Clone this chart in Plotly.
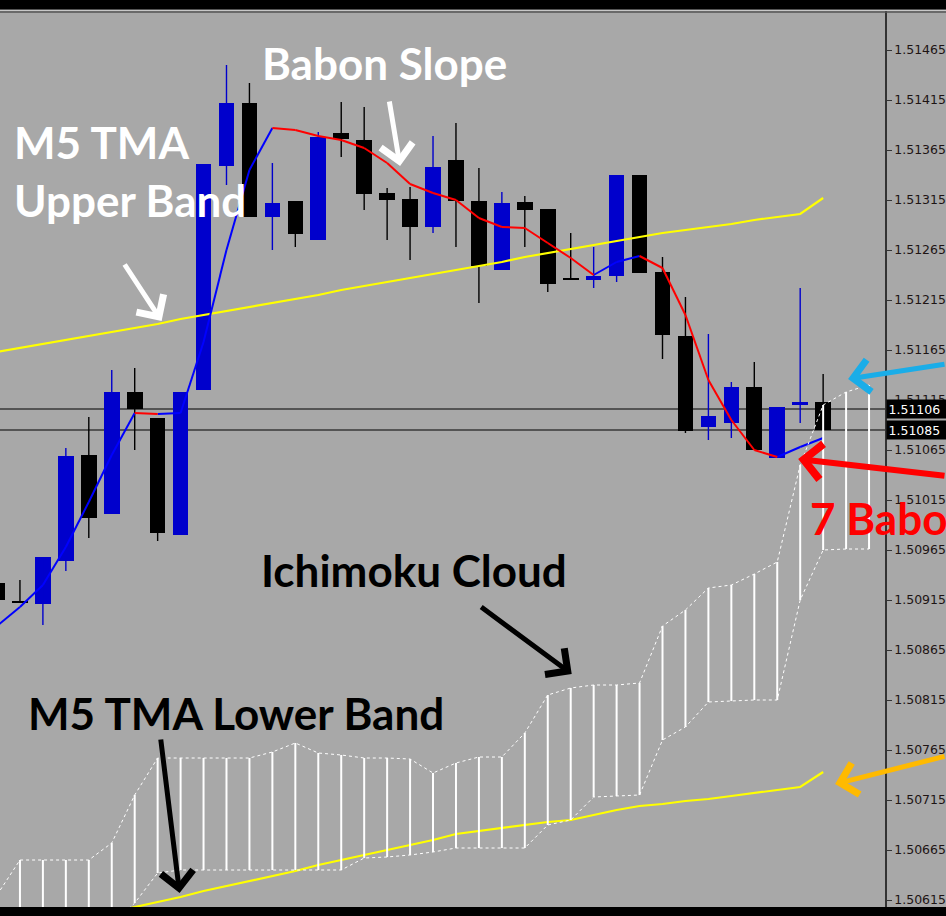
import plotly.graph_objects as go

# ---------------- data ----------------
bar_index = list(range(-1, 36))
open_ = [1.50932, 1.50914, 1.50911, 1.50954, 1.51060, 1.51001, 1.51123, 1.51097, 1.50980, 1.51125,
         1.51349, 1.51412, 1.51298, 1.51314, 1.51275, 1.51382, 1.51375, 1.51322, 1.51316, 1.51288,
         1.51355, 1.51314, 1.51245, 1.51313, 1.51306, 1.51237, 1.51235, 1.51239, 1.51340, 1.51243,
         1.51179, 1.51088, 1.51092, 1.51128, 1.51057, 1.51110, 1.51113]
high = [1.50937, 1.50935, 1.50958, 1.51067, 1.51098, 1.51145, 1.51147, 1.51097, 1.51123, 1.51351,
        1.51450, 1.51432, 1.51352, 1.51314, 1.51383, 1.51413, 1.51408, 1.51327, 1.51328, 1.51379,
        1.51392, 1.51347, 1.51323, 1.51319, 1.51306, 1.51282, 1.51268, 1.51340, 1.51340, 1.51258,
        1.51218, 1.51181, 1.51133, 1.51153, 1.51108, 1.51227, 1.51141]
low = [1.50910, 1.50912, 1.50890, 1.50944, 1.50977, 1.51001, 1.51065, 1.50974, 1.50980, 1.51125,
       1.51330, 1.51298, 1.51265, 1.51268, 1.51275, 1.51358, 1.51305, 1.51275, 1.51255, 1.51282,
       1.51268, 1.51212, 1.51245, 1.51268, 1.51223, 1.51235, 1.51227, 1.51233, 1.51242, 1.51156,
       1.51082, 1.51075, 1.51077, 1.51065, 1.51057, 1.51092, 1.51085]
close = [1.50915, 1.50912, 1.50958, 1.51059, 1.50997, 1.51123, 1.51106, 1.50982, 1.51123, 1.51351,
         1.51412, 1.51298, 1.51312, 1.51281, 1.51378, 1.51376, 1.51321, 1.51315, 1.51288, 1.51348,
         1.51314, 1.51249, 1.51312, 1.51305, 1.51231, 1.51235, 1.51239, 1.51340, 1.51242, 1.51180,
         1.51084, 1.51099, 1.51128, 1.51065, 1.51108, 1.51113, 1.51085]

# Babon TMA centre line (one value per bar)
babon_ma = [1.50889, 1.50908, 1.50930, 1.50968, 1.51013, 1.51060, 1.51102, 1.51101, 1.51102, 1.51173,
            1.51265, 1.51345, 1.51387, 1.51385, 1.51379, 1.51375, 1.51367, 1.51352, 1.51331, 1.51322,
            1.51315, 1.51297, 1.51288, 1.51287, 1.51272, 1.51257, 1.51240, 1.51253, 1.51259, 1.51247,
            1.51200, 1.51135, 1.51095, 1.51065, 1.51058, 1.51068, 1.51077]

# M5 TMA bands
upper_band = [1.51163, 1.51167, 1.51171, 1.51175, 1.51179, 1.51183, 1.51187, 1.51191, 1.51196, 1.51200,
              1.51204, 1.51208, 1.51212, 1.51216, 1.51220, 1.51225, 1.51229, 1.51233, 1.51237, 1.51241,
              1.51245, 1.51249, 1.51253, 1.51258, 1.51262, 1.51266, 1.51270, 1.51274, 1.51278, 1.51282,
              1.51285, 1.51288, 1.51291, 1.51295, 1.51298, 1.51301, 1.51317]
lower_band_index = list(range(4, 36))
lower_band = [1.50602, 1.50608, 1.50613, 1.50618, 1.50624, 1.50629, 1.50634, 1.50639, 1.50644, 1.50650,
              1.50655, 1.50660, 1.50665, 1.50670, 1.50675, 1.50681, 1.50684, 1.50687, 1.50690, 1.50693,
              1.50695, 1.50700, 1.50705, 1.50709, 1.50711, 1.50714, 1.50716, 1.50719, 1.50722, 1.50725,
              1.50728, 1.50743]

# Ichimoku cloud (senkou spans, shifted forward two bars past the last candle)
cloud_index = list(range(-1, 38))
span_top = [1.50620, 1.50655, 1.50655, 1.50655, 1.50655, 1.50672, 1.50720, 1.50757, 1.50757, 1.50757,
            1.50757, 1.50757, 1.50763, 1.50772, 1.50762, 1.50760, 1.50757, 1.50757, 1.50756, 1.50742,
            1.50752, 1.50758, 1.50758, 1.50782, 1.50820, 1.50827, 1.50830, 1.50830, 1.50832, 1.50889,
            1.50905, 1.50927, 1.50930, 1.50941, 1.50953, 1.51050, 1.51110, 1.51123, 1.51130]
span_bottom = [1.50590, 1.50590, 1.50590, 1.50590, 1.50590, 1.50590, 1.50612, 1.50642, 1.50645, 1.50645,
               1.50645, 1.50645, 1.50645, 1.50645, 1.50645, 1.50645, 1.50657, 1.50658, 1.50660, 1.50663,
               1.50667, 1.50667, 1.50667, 1.50667, 1.50690, 1.50695, 1.50718, 1.50719, 1.50720, 1.50775,
               1.50788, 1.50813, 1.50814, 1.50815, 1.50815, 1.50915, 1.50965, 1.50966, 1.50966]

ask_price = 1.51106
bid_price = 1.51085

tick_values = [1.50615, 1.50665, 1.50715, 1.50765, 1.50815, 1.50865, 1.50915, 1.50965, 1.51015,
               1.51065, 1.51115, 1.51165, 1.51215, 1.51265, 1.51315, 1.51365, 1.51415, 1.51465]
tick_labels = ["1.50615", "1.50665", "1.50715", "1.50765", "1.50815", "1.50865", "1.50915", "1.50965",
               "1.51015", "1.51065", "1.51115", "1.51165", "1.51215", "1.51265", "1.51315", "1.51365",
               "1.51415", "1.51465"]

# ---------------- styling ----------------
BG = "#A8A8A8"
BULL = "#0000CC"
BEAR = "#000000"
W, H = 946, 916
ML, MR, MT, MB = 0, 59, 10, 9
PW, PH = W - ML - MR, H - MT - MB
FONT = "Lato"
AXFONT = "DejaVu Sans"


def pp(px, py):
    """pixel position -> paper coords"""
    return (px - ML) / PW, (H - MB - py) / PH


fig = go.Figure()

# candle bodies
is_bull = [c >= o for o, c in zip(open_, close)]
fig.add_trace(go.Bar(
    x=bar_index,
    y=[max(abs(c - o), 0.00001) for o, c in zip(open_, close)],
    base=[min(o, c) for o, c in zip(open_, close)],
    width=0.68,
    marker=dict(color=[BULL if b else BEAR for b in is_bull], line=dict(width=0)),
    hoverinfo="skip", showlegend=False,
))

# wicks
for flag, col in ((True, BULL), (False, BEAR)):
    wx, wy = [], []
    for k, h, l, b in zip(bar_index, high, low, is_bull):
        if b == flag:
            wx += [k, k, None]
            wy += [h, l, None]
    fig.add_trace(go.Scatter(x=wx, y=wy, mode="lines", line=dict(color=col, width=1.4),
                             hoverinfo="skip", showlegend=False))

# TMA bands
fig.add_trace(go.Scatter(x=bar_index, y=upper_band, mode="lines",
                         line=dict(color="#FFFF00", width=2.2), hoverinfo="skip", showlegend=False))
fig.add_trace(go.Scatter(x=lower_band_index, y=lower_band, mode="lines",
                         line=dict(color="#FFFF00", width=2.2), hoverinfo="skip", showlegend=False))

# Babon line, coloured by slope
for rising, col in ((True, "#0000FF"), (False, "#FF0000")):
    sx, sy = [], []
    for i in range(1, len(bar_index)):
        up = babon_ma[i] >= babon_ma[i - 1]
        if up == rising:
            sx += [bar_index[i - 1], bar_index[i], None]
            sy += [babon_ma[i - 1], babon_ma[i], None]
    fig.add_trace(go.Scatter(x=sx, y=sy, mode="lines", line=dict(color=col, width=2),
                             hoverinfo="skip", showlegend=False))

# Ichimoku cloud: hatch + dashed spans
hx, hy = [], []
for k, t, b in zip(cloud_index, span_top, span_bottom):
    hx += [k, k, None]
    hy += [b, t, None]
fig.add_trace(go.Scatter(x=hx, y=hy, mode="lines", line=dict(color="white", width=2),
                         hoverinfo="skip", showlegend=False))
for span in (span_top, span_bottom):
    fig.add_trace(go.Scatter(x=cloud_index, y=span, mode="lines",
                             line=dict(color="white", width=1, dash="3px,3px"),
                             hoverinfo="skip", showlegend=False))

# bid / ask lines
for p in (ask_price, bid_price):
    fig.add_shape(type="line", xref="paper", yref="y", x0=0, x1=1, y0=p, y1=p,
                  line=dict(color="#000000", width=1), layer="below")

# frame bars top / bottom
fig.add_shape(type="rect", xref="paper", yref="paper", x0=-0.01, x1=1.1,
              y0=pp(0, 9.5)[1], y1=pp(0, -2)[1], fillcolor="#000000", line=dict(width=0))
fig.add_shape(type="line", xref="paper", yref="paper", x0=0, x1=1.1,
              y0=pp(0, 10.5)[1], y1=pp(0, 10.5)[1], line=dict(color="#C8C8C8", width=1))
fig.add_shape(type="line", xref="paper", yref="paper", x0=0, x1=1.1,
              y0=pp(0, 12)[1], y1=pp(0, 12)[1], line=dict(color="#555555", width=1.5))
fig.add_shape(type="rect", xref="paper", yref="paper", x0=-0.01, x1=1.1,
              y0=pp(0, 920)[1], y1=pp(0, 907)[1], fillcolor="#000000", line=dict(width=0))

# price boxes on axis
for p in (ask_price, bid_price):
    fig.add_annotation(x=1, xref="paper", y=p, yref="y", xanchor="left", yanchor="middle",
                       xshift=1, text=f"{p:.5f}&nbsp;", showarrow=False, bgcolor="#000000",
                       borderpad=1.5, font=dict(family=AXFONT, size=12.5, color="white"))

# text labels
def label(text, px, py, color, anchor="center", size=44):
    x, y = pp(px, py)
    fig.add_annotation(x=x, y=y, xref="paper", yref="paper", text=f"<b>{text}</b>",
                       xanchor=anchor, yanchor="middle", showarrow=False,
                       font=dict(family=FONT, size=size, color=color))

label("Babon Slope", 385, 63, "white")
label("M5 TMA", 12, 142, "white", "left")
label("Upper Band", 12, 200, "white", "left")
label("Ichimoku Cloud", 415, 570, "black")
label("M5 TMA Lower Band", 26, 713, "black", "left")
label("7 Babon", 810, 518, "#FF0000", "left")

# arrows
def arrow(tail, head, color, width=5, size=1.25):
    x, y = pp(*head)
    fig.add_annotation(x=x, y=y, xref="paper", yref="paper", text="",
                       ax=tail[0] - head[0], ay=tail[1] - head[1],
                       showarrow=True, arrowhead=4, arrowsize=size, arrowwidth=width,
                       arrowcolor=color, standoff=0)

arrow((390, 100), (401, 166), "white")
arrow((124, 263), (162, 321), "white")
arrow((481, 606), (573, 674), "black")
arrow((161, 738), (180, 893), "black")
arrow((950, 364), (850, 379), "#1AADE8")
arrow((950, 476), (800, 459), "#FF0000", 6, 1.15)
arrow((950, 756), (837, 784), "#FFBA00")

fig.update_layout(
    width=W, height=H,
    margin=dict(l=ML, r=MR, t=MT, b=MB, pad=0),
    paper_bgcolor=BG, plot_bgcolor=BG,
    showlegend=False, bargap=0,
    xaxis=dict(range=[-20 / 23, 867 / 23], visible=False, fixedrange=True),
    yaxis=dict(range=[1.50608, 1.51505], side="right", tickvals=tick_values, ticktext=tick_labels,
               ticks="outside", ticklen=5, tickwidth=1, tickcolor="#333333",
               showline=True, linecolor="#333333", linewidth=1.5, showgrid=False, zeroline=False,
               tickfont=dict(family=AXFONT, size=12.5, color="#1e1414"), fixedrange=True),
)

fig.write_html("out.html", config={"displayModeBar": False},
               post_script="document.body.style.margin='0';document.body.style.overflow='hidden';")
